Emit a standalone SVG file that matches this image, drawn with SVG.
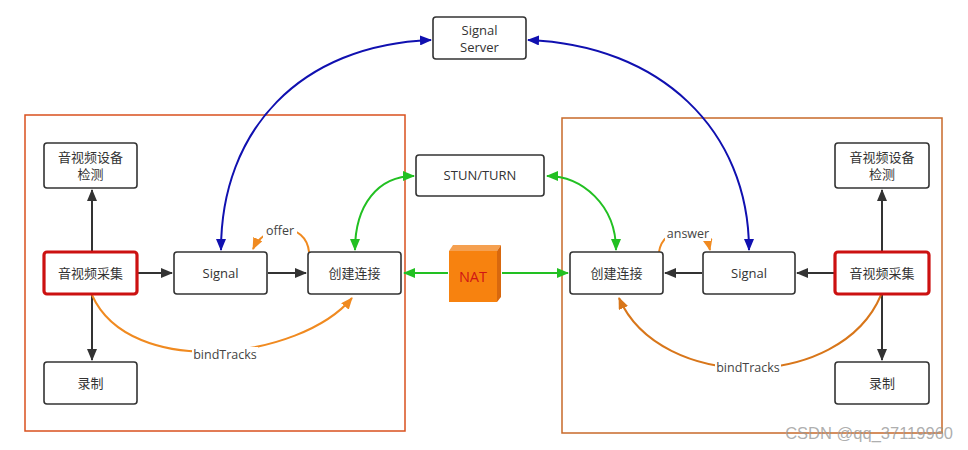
<svg xmlns="http://www.w3.org/2000/svg" width="968" height="450" viewBox="0 0 968 450">
<defs>
<style>
.box{fill:#fff;stroke:#333;stroke-width:1.6}
.red{fill:#fff;stroke:#cc1111;stroke-width:3.2}
.t{font-family:"Open Sans","Noto Sans CJK SC",sans-serif;font-size:13px;fill:#333;text-anchor:middle}
.lbl{font-family:"Open Sans","Noto Sans CJK SC",sans-serif;font-size:12.5px;fill:#444;text-anchor:middle}
.blk{fill:none;stroke:#333;stroke-width:2}
.blue{fill:none;stroke:#1010b0;stroke-width:2}
.green{fill:none;stroke:#22c022;stroke-width:2}
.or{fill:none;stroke:#f08a20;stroke-width:2}
.or2{fill:none;stroke:#d8761a;stroke-width:2}
</style>
<marker id="mb" viewBox="0 0 12 10" refX="11" refY="5" markerWidth="12" markerHeight="10" markerUnits="userSpaceOnUse" orient="auto"><path d="M0,0 L12,5 L0,10 z" fill="#333"/></marker>
<marker id="mbl" viewBox="0 0 12 10" refX="11" refY="5" markerWidth="12" markerHeight="10" markerUnits="userSpaceOnUse" orient="auto-start-reverse"><path d="M0,0 L12,5 L0,10 z" fill="#1010b0"/></marker>
<marker id="mg" viewBox="0 0 12 10" refX="11" refY="5" markerWidth="12" markerHeight="10" markerUnits="userSpaceOnUse" orient="auto-start-reverse"><path d="M0,0 L12,5 L0,10 z" fill="#22c022"/></marker>
<marker id="mo" viewBox="0 0 12 10" refX="11" refY="5" markerWidth="12" markerHeight="10" markerUnits="userSpaceOnUse" orient="auto"><path d="M0,0 L12,5 L0,10 z" fill="#f08a20"/></marker>
<marker id="mo2" viewBox="0 0 12 10" refX="11" refY="5" markerWidth="12" markerHeight="10" markerUnits="userSpaceOnUse" orient="auto"><path d="M0,0 L12,5 L0,10 z" fill="#d8761a"/></marker>
</defs>
<rect width="968" height="450" fill="#fff"/>
<rect id="frameL" x="25" y="115" width="380" height="316" fill="none" stroke="#d9501e" stroke-width="1.5"/>
<rect id="frameR" x="562" y="118" width="380" height="315" fill="none" stroke="#c8692a" stroke-width="1.5"/>

<g id="connectors">
<path class="blk" d="M92,252 L92,190" marker-end="url(#mb)"/>
<path class="blk" d="M92,294 L92,360" marker-end="url(#mb)"/>
<path class="blk" d="M138,273 L172,273" marker-end="url(#mb)"/>
<path class="blk" d="M268,273 L306,273" marker-end="url(#mb)"/>
<path class="blk" d="M882,252 L882,190" marker-end="url(#mb)"/>
<path class="blk" d="M882,294 L882,360" marker-end="url(#mb)"/>
<path class="blk" d="M834,273 L797,273" marker-end="url(#mb)"/>
<path class="blk" d="M702,273 L665,273" marker-end="url(#mb)"/>
<path class="blue" d="M431,40 C300,45 221,130 221,250" marker-start="url(#mbl)" marker-end="url(#mbl)"/>
<path class="blue" d="M528,40 C660,45 749,130 749,250" marker-start="url(#mbl)" marker-end="url(#mbl)"/>
<path class="green" d="M414,176 C378,176 355,205 355,250" marker-start="url(#mg)" marker-end="url(#mg)"/>
<path class="green" d="M547,176 C582,176 616,205 616,250" marker-start="url(#mg)" marker-end="url(#mg)"/>
<path class="green" d="M448,273 L404,273" marker-end="url(#mg)"/>
<path class="green" d="M502,273 L568,273" marker-end="url(#mg)"/>
<path class="or" d="M309,252 C306,222 266,222 253,249" marker-end="url(#mo)"/>
<path class="or" d="M659,252 C663,224 704,224 710,250" marker-end="url(#mo)"/>
<path class="or" d="M92,295 C130,380 300,360 352,298" marker-end="url(#mo)"/>
<path class="or2" d="M881,295 C840,392 660,392 619,298" marker-end="url(#mo2)"/>
<rect x="263" y="223" width="34" height="15" fill="#fff"/>
<text class="lbl" x="280" y="235">offer</text>
<rect x="665" y="226" width="46" height="15" fill="#fff"/>
<text class="lbl" x="688" y="238">answer</text>
<rect x="192" y="347" width="66" height="15" fill="#fff"/>
<text class="lbl" x="225" y="359">bindTracks</text>
<rect x="715" y="360" width="66" height="15" fill="#fff"/>
<text class="lbl" x="748" y="372">bindTracks</text>
</g>

<g id="signalServer"><rect class="box" x="433" y="17" width="93" height="42" rx="3"/><text class="t" x="479.5" y="35">Signal</text><text class="t" x="479.5" y="52">Server</text></g>
<g id="stun"><rect class="box" x="416" y="155" width="128" height="41" rx="3"/><text class="t" x="480" y="180">STUN/TURN</text></g>
<g id="nat">
<polygon points="449,251 453,245 501,245 497,251" fill="#f5a050"/>
<polygon points="497,251 501,245 501,297 497,302" fill="#d8680e"/>
<rect x="449" y="251" width="48" height="51" fill="#f7820f"/>
<text x="473" y="282" font-family="'Open Sans',sans-serif" font-size="14.5" fill="#d01515" text-anchor="middle">NAT</text>
</g>

<g id="L_detect"><rect class="box" x="44" y="143" width="93" height="45" rx="3"/><text class="t" x="90.5" y="162">音视频设备</text><text class="t" x="90.5" y="179">检测</text></g>
<g id="L_capture"><rect class="red" x="44" y="252" width="93" height="42" rx="3"/><text class="t" x="90.5" y="278">音视频采集</text></g>
<g id="L_record"><rect class="box" x="44" y="362" width="93" height="42" rx="3"/><text class="t" x="90.5" y="388">录制</text></g>
<g id="L_signal"><rect class="box" x="174" y="252" width="93" height="42" rx="3"/><text class="t" x="220.5" y="278">Signal</text></g>
<g id="L_conn"><rect class="box" x="308" y="252" width="93" height="42" rx="3"/><text class="t" x="354.5" y="278">创建连接</text></g>

<g id="R_conn"><rect class="box" x="570" y="252" width="93" height="42" rx="3"/><text class="t" x="616.5" y="278">创建连接</text></g>
<g id="R_signal"><rect class="box" x="703" y="252" width="92" height="42" rx="3"/><text class="t" x="749" y="278">Signal</text></g>
<g id="R_capture"><rect class="red" x="835" y="252" width="94" height="42" rx="3"/><text class="t" x="882" y="278">音视频采集</text></g>
<g id="R_detect"><rect class="box" x="835" y="143" width="94" height="45" rx="3"/><text class="t" x="882" y="162">音视频设备</text><text class="t" x="882" y="179">检测</text></g>
<g id="R_record"><rect class="box" x="835" y="362" width="94" height="42" rx="3"/><text class="t" x="882" y="388">录制</text></g>

<text x="953" y="439" font-family="'Liberation Sans',sans-serif" font-size="16.5" fill="#999" fill-opacity="0.8" text-anchor="end">CSDN @qq_37119960</text>
</svg>
